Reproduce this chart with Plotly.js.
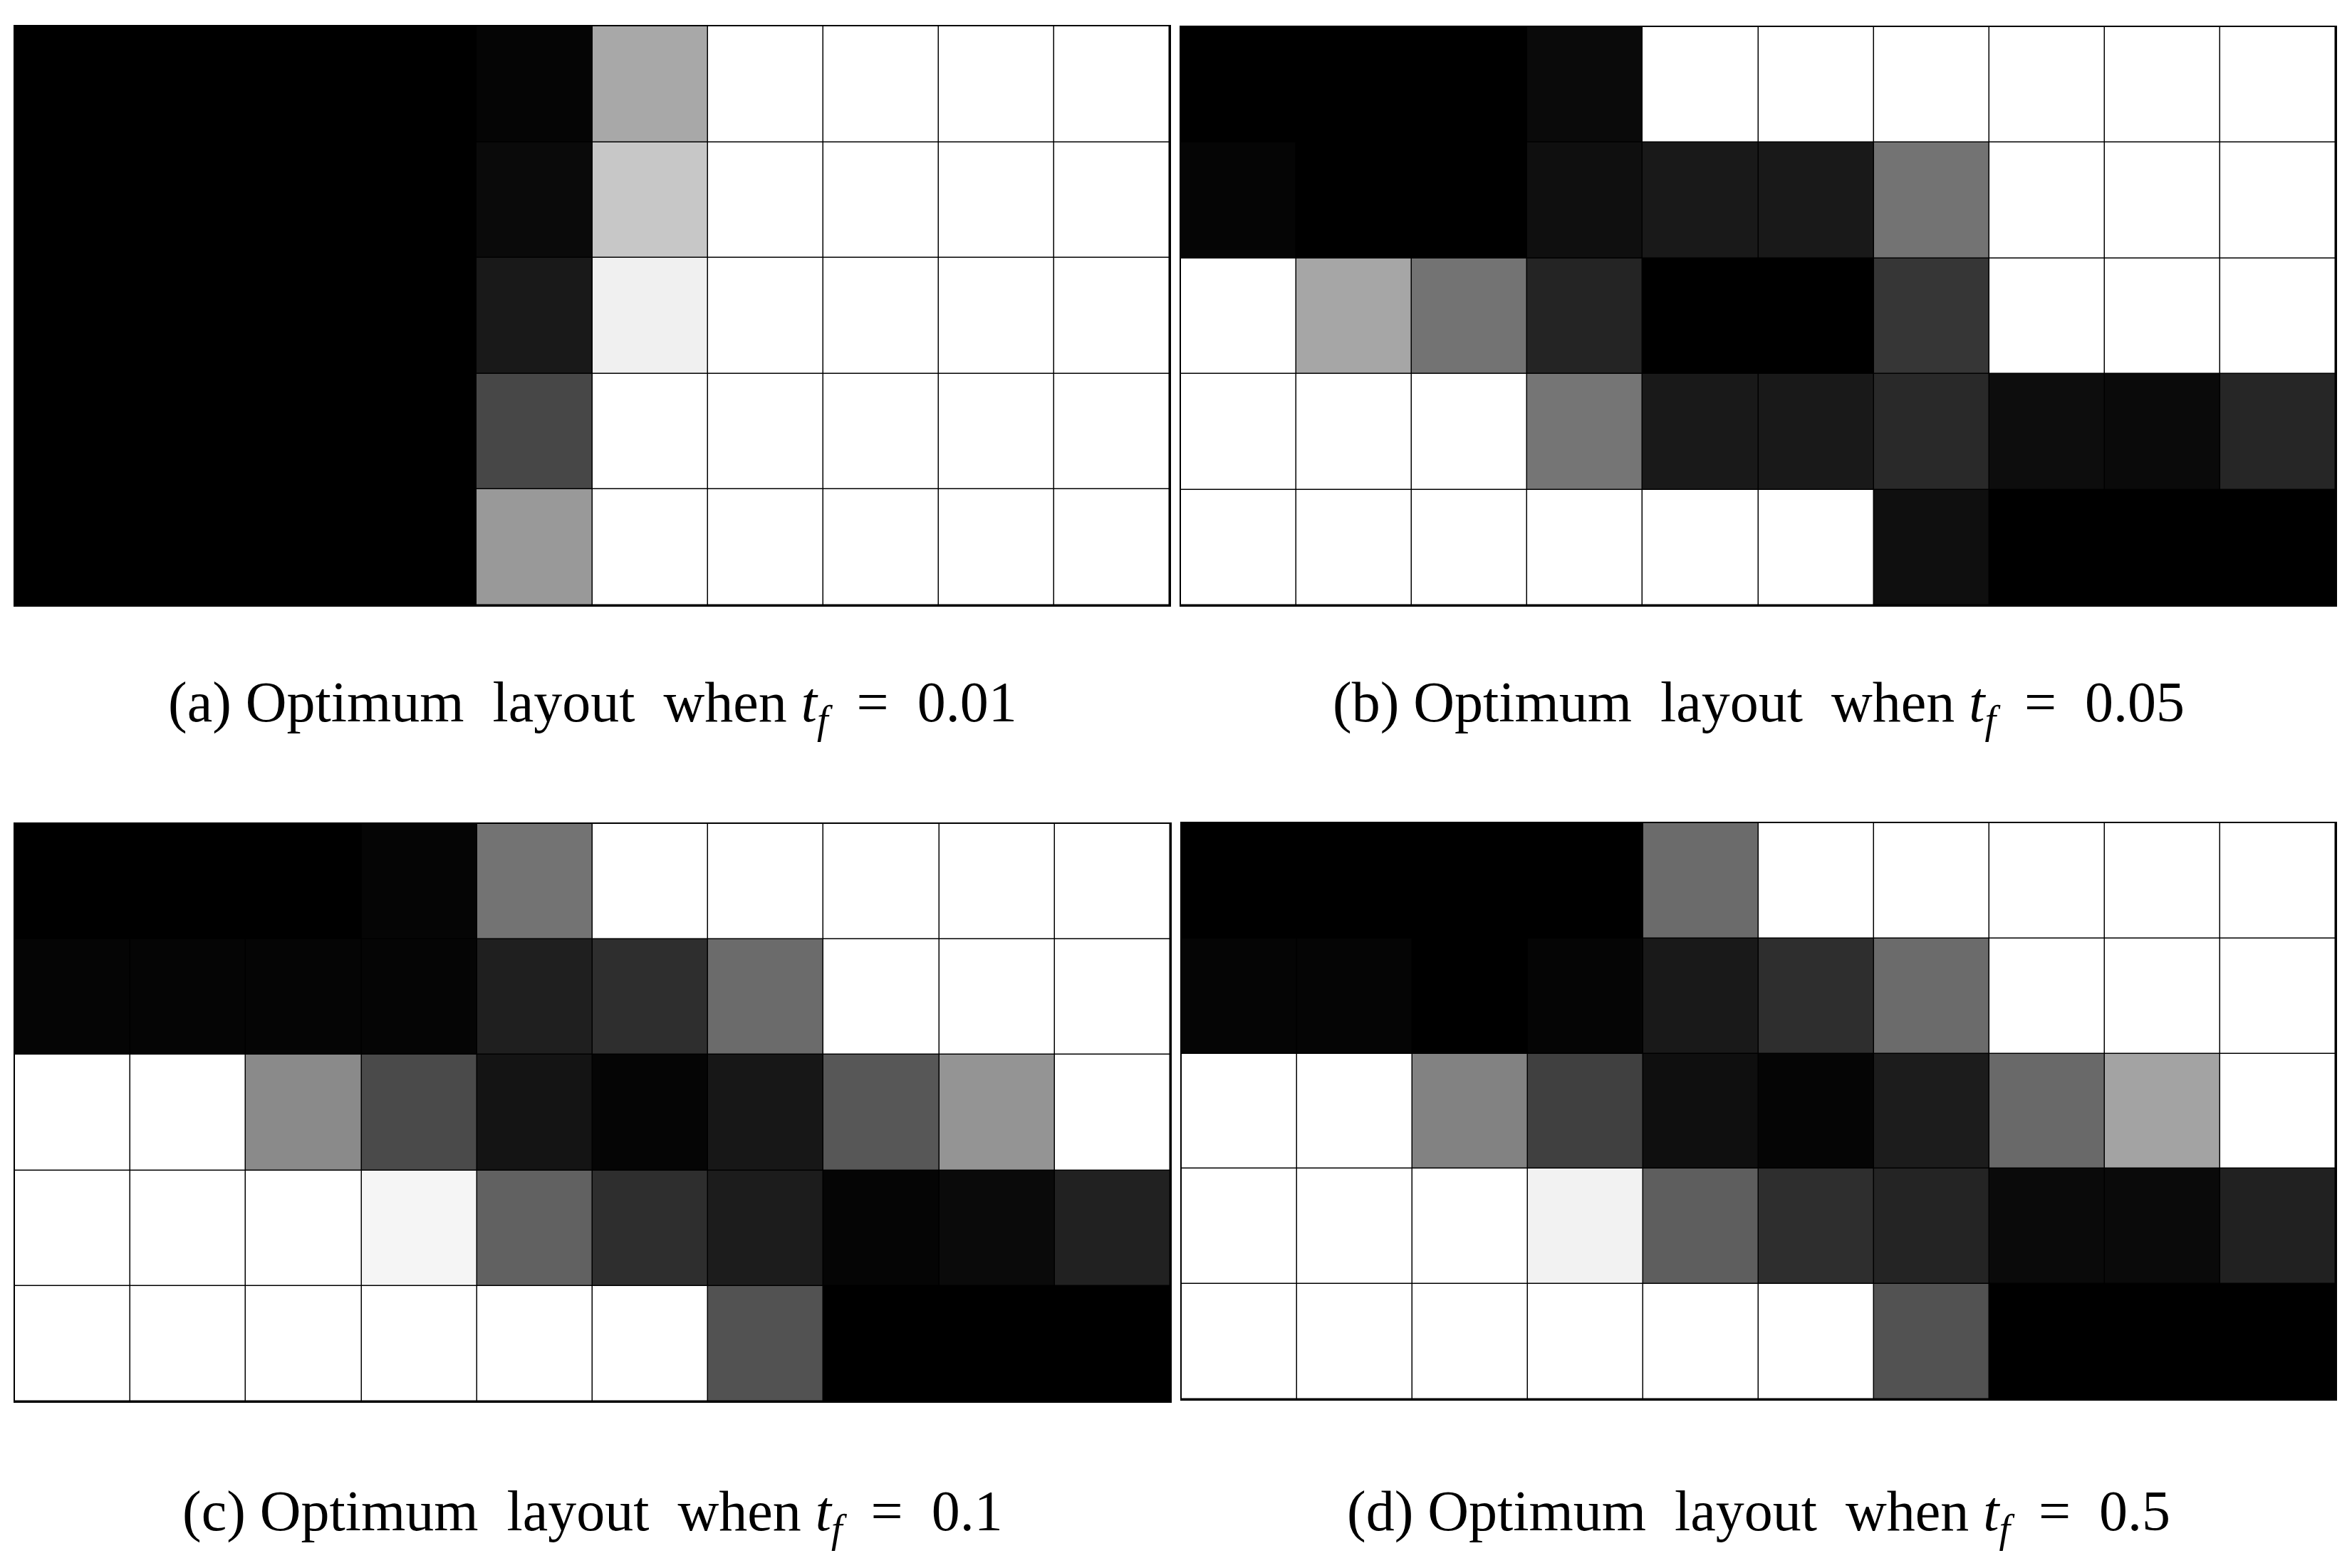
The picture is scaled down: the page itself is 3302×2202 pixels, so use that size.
<!DOCTYPE html>
<html>
<head>
<meta charset="utf-8">
<script src="https://cdn.plot.ly/plotly-3.0.1.min.js"></script>
<style>
  html, body { margin: 0; padding: 0; background: #fff; }
  #chart { width: 3302px; height: 2202px; }
</style>
</head>
<body>
<div id="chart"></div>
<script>
// element density per cell (1 = solid/black, 0 = void/white), rows top to bottom
const densA = [
  [1, 1, 1, 1, 0.98, 0.34, 0, 0, 0, 0],
  [1, 1, 1, 1, 0.96, 0.22, 0, 0, 0, 0],
  [1, 1, 1, 1, 0.90, 0.06, 0, 0, 0, 0],
  [1, 1, 1, 1, 0.72, 0, 0, 0, 0, 0],
  [1, 1, 1, 1, 0.40, 0, 0, 0, 0, 0]
];
const densB = [
  [1, 1, 1, 0.96, 0, 0, 0, 0, 0, 0],
  [0.98, 1, 1, 0.94, 0.90, 0.90, 0.55, 0, 0, 0],
  [0, 0.35, 0.55, 0.86, 1, 1, 0.79, 0, 0, 0],
  [0, 0, 0, 0.54, 0.90, 0.90, 0.84, 0.95, 0.96, 0.85],
  [0, 0, 0, 0, 0, 0, 0.94, 1, 1, 1]
];
const densC = [
  [1, 1, 1, 0.98, 0.55, 0, 0, 0, 0, 0],
  [0.98, 0.98, 0.98, 0.98, 0.88, 0.82, 0.58, 0, 0, 0],
  [0, 0, 0.46, 0.71, 0.92, 0.98, 0.91, 0.66, 0.42, 0],
  [0, 0, 0, 0.04, 0.62, 0.82, 0.89, 0.98, 0.96, 0.87],
  [0, 0, 0, 0, 0, 0, 0.68, 1, 1, 1]
];
const densD = [
  [1, 1, 1, 1, 0.58, 0, 0, 0, 0, 0],
  [0.98, 0.98, 1, 0.98, 0.90, 0.82, 0.58, 0, 0, 0],
  [0, 0, 0.49, 0.75, 0.94, 0.98, 0.89, 0.59, 0.36, 0],
  [0, 0, 0, 0.05, 0.63, 0.82, 0.86, 0.96, 0.96, 0.87],
  [0, 0, 0, 0, 0, 0, 0.68, 1, 1, 1]
];
const colIdx = [1, 2, 3, 4, 5, 6, 7, 8, 9, 10];
const rowIdx = [1, 2, 3, 4, 5];
const panelLetters = ['a', 'b', 'c', 'd'];
const tfValues = ['0.01', '0.05', '0.1', '0.5'];

const W = 3302, H = 2202;
// pixel boxes of the four panels [left, right, top, bottom]
const boxes = [
  [21, 1642, 37, 850],
  [1658, 3279, 38, 850],
  [21, 1643, 1157, 1968],
  [1659, 3279, 1156, 1965]
];
const captionY = [992, 992, 2128, 2128];

function heat(z, i) {
  const s = i === 0 ? '' : String(i + 1);
  return {
    type: 'heatmap',
    z: z, x: colIdx, y: rowIdx,
    xaxis: 'x' + s, yaxis: 'y' + s,
    colorscale: [[0, '#ffffff'], [1, '#000000']],
    zmin: 0, zmax: 1,
    xgap: 1.5, ygap: 1.5,
    showscale: false,
    hoverinfo: 'skip'
  };
}

const data = [densA, densB, densC, densD].map(heat);

const layout = {
  width: W, height: H,
  margin: { l: 0, r: 0, t: 0, b: 0 },
  paper_bgcolor: '#ffffff',
  plot_bgcolor: '#000000',
  showlegend: false,
  annotations: []
};

boxes.forEach((b, i) => {
  const s = i === 0 ? '' : String(i + 1);
  layout['xaxis' + s] = {
    domain: [b[0] / W, b[1] / W],
    range: [0.5, 10.5],
    showticklabels: false, ticks: '', showgrid: false, zeroline: false,
    showline: true, mirror: true, linecolor: '#000', linewidth: 2,
    anchor: 'y' + s
  };
  layout['yaxis' + s] = {
    domain: [1 - b[3] / H, 1 - b[2] / H],
    range: [5.5, 0.5],
    showticklabels: false, ticks: '', showgrid: false, zeroline: false,
    showline: true, mirror: true, linecolor: '#000', linewidth: 2,
    anchor: 'x' + s
  };
  layout.annotations.push({
    xref: 'paper', yref: 'paper',
    x: (b[0] + b[1]) / 2 / W, y: 1 - captionY[i] / H,
    xanchor: 'center', yanchor: 'middle',
    showarrow: false,
    text: '(' + panelLetters[i] + ') Optimum  layout  when <i>t</i><sub><i>f</i></sub>  =  ' + tfValues[i],
    font: { family: 'Liberation Serif, Times New Roman, serif', size: 80, color: '#000' }
  });
});

Plotly.newPlot('chart', data, layout, { staticPlot: true, displayModeBar: false });
</script>
</body>
</html>
